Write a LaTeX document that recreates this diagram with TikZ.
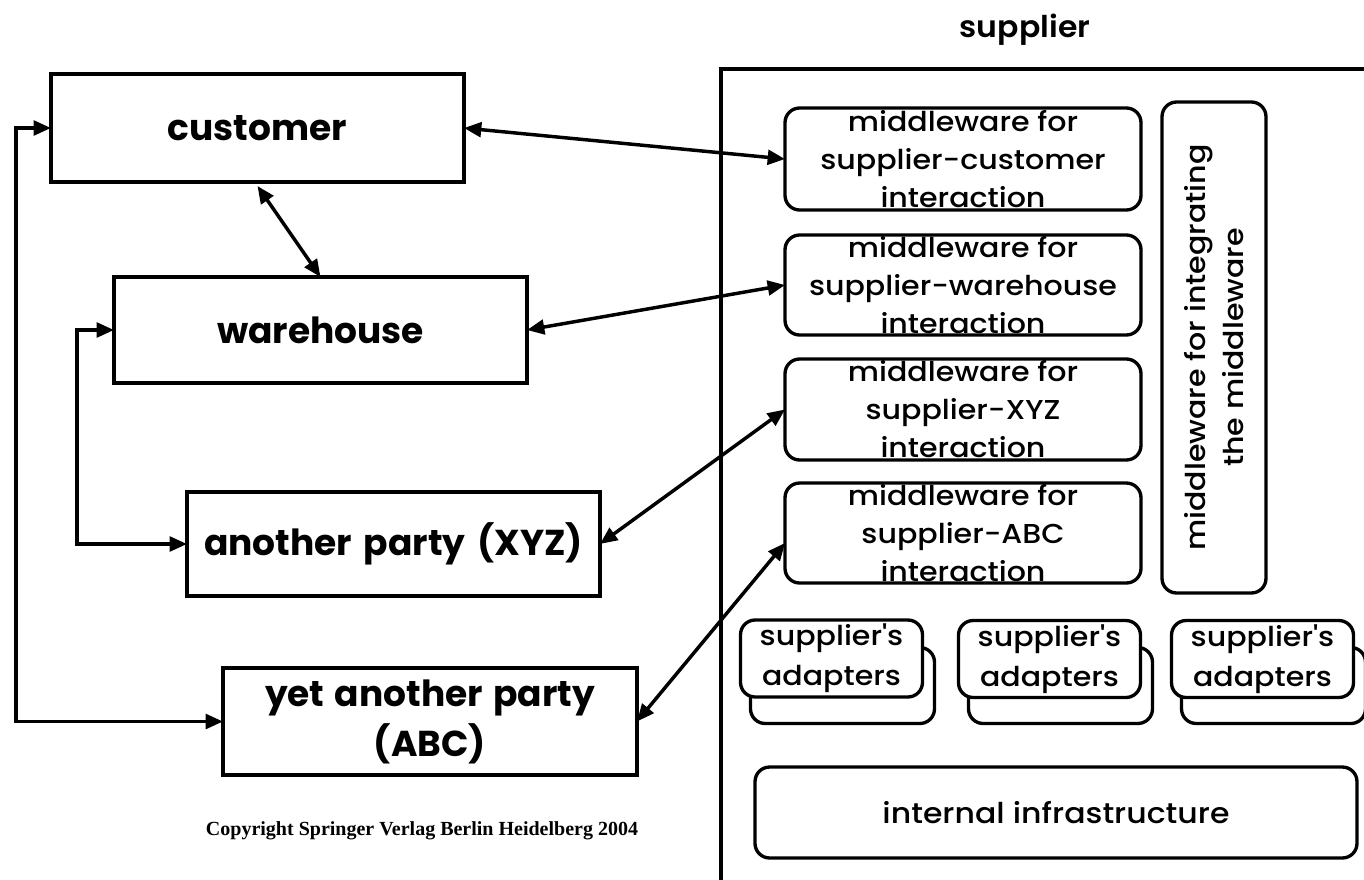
\documentclass[tikz,border=0pt]{standalone}
\usepackage{fontspec}
\setmainfont{Poppins}
\newfontfamily\mwfont{Poppins Medium}[FakeStretch=1.1]
\newfontfamily\sbfont{Poppins SemiBold}[FakeStretch=1.05]
\newfontfamily\serifcopy{Liberation Serif}
\usetikzlibrary{arrows.meta}
\begin{document}
\begin{tikzpicture}[x=0.75pt,y=-0.75pt,
  sz/.style 2 args={minimum width=#1*0.75pt, minimum height=#2*0.75pt},
  bigbox/.style={draw, line width=3pt, inner sep=0pt, outer sep=0pt, align=center,
    font=\fontsize{27}{37.5}\selectfont\bfseries},
  mwbox/.style={draw, rounded corners=11pt, line width=2.5pt, inner sep=0pt, outer sep=0pt,
    align=center, font=\mwfont\fontsize{20.5}{28.5}\selectfont},
  adfront/.style={mwbox, fill=white, font=\mwfont\fontsize{20.5}{30}\selectfont, sz={182}{77}},
  adback/.style={draw, rounded corners=11pt, line width=2.5pt, inner sep=0pt, outer sep=0pt, sz={184}{76}},
  tip/.tip={Triangle[length=13pt,width=11pt]},
  biarr/.style={line width=2.6pt, tip-tip},
]
\useasboundingbox (0,0) rectangle (1364,879);
\clip (0,0) rectangle (1364,879);

% supplier frame (runs off the picture at right and bottom)
\node[draw, line width=2.6pt, inner sep=0pt, outer sep=0pt, sz={720}{860}, anchor=north west] (sup) at (721,69) {};
\node[font=\sbfont\fontsize{22.5}{28}\selectfont] (suptitle) at (1025,30) {supplier};

% left parties
\node[bigbox, sz={413}{108}] (cust) at (257.5,128) {customer};
\node[bigbox, sz={413}{106}] (wh) at (320.5,330) {warehouse};
\node[bigbox, sz={413}{104}] (xyz) at (393.5,544) {another\hspace{3pt} party\hspace{3pt} (XYZ)};
\node[bigbox, sz={414}{107}] (abc) at (430,721.5) {yet\hspace{2pt} another\hspace{2pt} party\\(ABC)};

\node[font=\serifcopy\bfseries\fontsize{15}{17}\selectfont] (copy) at (422,831) {Copyright Springer Verlag Berlin Heidelberg 2004};

% middleware boxes
\node[mwbox, sz={356}{102}] (mwc) at (963,159) {middleware for\\supplier-customer\\interaction};
\node[mwbox, sz={356}{100}] (mwh) at (963,285) {middleware for\\supplier-warehouse\\interaction};
\node[mwbox, sz={356}{101}] (mwx) at (963,409.5) {middleware for\\supplier-XYZ\\interaction};
\node[mwbox, sz={356}{100}] (mwa) at (963,533) {middleware for\\supplier-ABC\\interaction};
\node[mwbox, sz={491}{104}, rotate=90] (mwi) at (1214,347.5) {middleware for integrating\\the middleware};

% adapters
\node[adback] (ad1b) at (842.5,685.5) {};
\node[adfront] (ad1) at (831.5,658.5) {supplier{\char"27}s\\adapters};
\node[adback] (ad2b) at (1060.5,685.5) {};
\node[adfront] (ad2) at (1049.5,659) {supplier{\char"27}s\\adapters};
\node[adback] (ad3b) at (1273.5,685.5) {};
\node[adfront] (ad3) at (1262.5,659) {supplier{\char"27}s\\adapters};

\node[mwbox, font=\mwfont\fontsize{21.5}{28}\selectfont, sz={602}{91}] (infra) at (1056,812.5) {internal infrastructure};

% connectors
\draw[biarr] (cust.east) -- (mwc.west);
\draw[biarr] (wh.east) -- (mwh.west);
\draw[biarr] (xyz.east) -- (mwx.west);
\draw[biarr] (abc.east) -- ([yshift=-7.5pt]mwa.west);
\draw[biarr] ([yshift=-3pt]cust.south) -- (wh.north);
\draw[biarr] (cust.west) -- ++(-35,0) |- (abc.west);
\draw[biarr] (wh.west) -- ++(-37,0) |- (xyz.west);
\end{tikzpicture}
\end{document}
